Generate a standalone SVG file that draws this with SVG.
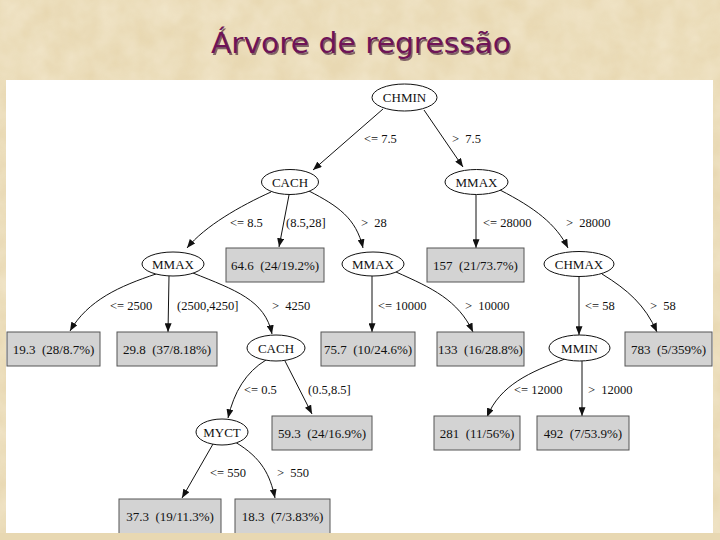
<svg xmlns="http://www.w3.org/2000/svg" width="720" height="540" viewBox="0 0 720 540">
<defs>
<filter id="tex" x="0" y="0" width="100%" height="100%">
<feTurbulence type="fractalNoise" baseFrequency="0.04" numOctaves="3" seed="4" result="n"/>
<feColorMatrix in="n" type="matrix" values="0 0 0 0 0.93  0 0 0 0 0.86  0 0 0 0 0.70  0 0 0 -1.2 1.0" result="c"/>
<feComposite in="c" in2="SourceGraphic" operator="in"/>
</filter>
<marker id="ah" viewBox="0 0 10 8" refX="10" refY="4" markerWidth="9" markerHeight="7" markerUnits="userSpaceOnUse" orient="auto">
<path d="M0,0 L10,4 L0,8 Z" fill="#111"/>
</marker>
<style>
.bg{fill:#E8D8B2}
.panel{fill:#ffffff}
.title{font-family:"DejaVu Sans","Noto Sans",sans-serif;font-size:28px;fill:#6E1457}
.tshadow{font-family:"DejaVu Sans","Noto Sans",sans-serif;font-size:28px;fill:#2a0020;opacity:0.55}
.node ellipse{fill:#fff;stroke:#111;stroke-width:1}
.node rect{fill:#D3D3D3;stroke:#555;stroke-width:1}
.lbl{font-family:"Liberation Serif","Times New Roman",serif;font-size:13px;fill:#111;text-anchor:middle;dominant-baseline:central;white-space:pre}
.elbl{font-family:"Liberation Serif","Times New Roman",serif;font-size:12.5px;fill:#111;white-space:pre}
.edges path{fill:none;stroke:#111;stroke-width:1;marker-end:url(#ah)}
</style>
</defs>
<rect class="bg" x="0" y="0" width="720" height="540"/>
<rect x="0" y="0" width="720" height="540" fill="#fff" filter="url(#tex)" opacity="0.6"/>
<rect class="panel" x="6" y="80" width="707" height="453"/>
<text class="tshadow" x="362.5" y="54.5" text-anchor="middle" textLength="300" lengthAdjust="spacingAndGlyphs">Árvore de regressão</text>
<text class="title" x="361" y="53" text-anchor="middle" textLength="300" lengthAdjust="spacingAndGlyphs">Árvore de regressão</text>

<g class="edges" id="edges">
<path d="M383,109 L313,170"/>
<path d="M424,110 L463,167"/>
<path d="M271,192 C240,206 205,226 187,248"/>
<path d="M289,195 L279,247"/>
<path d="M309,191 C338,206 356,218 363,248"/>
<path d="M476,195 L476,248"/>
<path d="M500,190 C535,208 556,224 568,248"/>
<path d="M156,274 C120,286 88,300 70,331"/>
<path d="M169,276 L168,332"/>
<path d="M193,273 C235,290 265,300 272,334"/>
<path d="M372,276 L372,332"/>
<path d="M396,272 C432,288 458,300 473,332"/>
<path d="M579,277 L579,335"/>
<path d="M602,274 C628,290 645,305 657,332"/>
<path d="M266,360 C246,372 234,392 228,418"/>
<path d="M285,361 L312,414"/>
<path d="M565,359 C530,372 500,385 487,417"/>
<path d="M582,361 L582,416"/>
<path d="M213,444 L182,498"/>
<path d="M235,442 C262,458 270,475 275,498"/>
</g>

<g class="elbls">
<text class="elbl" x="364" y="143">&lt;= 7.5</text>
<text class="elbl" x="452" y="143">&gt;  7.5</text>
<text class="elbl" x="230" y="227">&lt;= 8.5</text>
<text class="elbl" x="286" y="227">(8.5,28]</text>
<text class="elbl" x="361" y="227">&gt;  28</text>
<text class="elbl" x="483" y="227">&lt;= 28000</text>
<text class="elbl" x="566" y="227">&gt;  28000</text>
<text class="elbl" x="110" y="310">&lt;= 2500</text>
<text class="elbl" x="177" y="310">(2500,4250]</text>
<text class="elbl" x="272" y="310">&gt;  4250</text>
<text class="elbl" x="378" y="310">&lt;= 10000</text>
<text class="elbl" x="465" y="310">&gt;  10000</text>
<text class="elbl" x="585" y="310">&lt;= 58</text>
<text class="elbl" x="650" y="310">&gt;  58</text>
<text class="elbl" x="244" y="394">&lt;= 0.5</text>
<text class="elbl" x="308" y="394">(0.5,8.5]</text>
<text class="elbl" x="514" y="394">&lt;= 12000</text>
<text class="elbl" x="588" y="394">&gt;  12000</text>
<text class="elbl" x="210" y="477">&lt;= 550</text>
<text class="elbl" x="277" y="477">&gt;  550</text>
</g>

<g class="node" id="n-chmin"><ellipse cx="404.5" cy="97.5" rx="32.5" ry="13.5"/><text class="lbl" x="404.5" y="97.5">CHMIN</text></g>
<g class="node" id="n-cach1"><ellipse cx="290" cy="182" rx="28.5" ry="12.5"/><text class="lbl" x="290" y="182">CACH</text></g>
<g class="node" id="n-mmax1"><ellipse cx="476.5" cy="182" rx="31.5" ry="12.5"/><text class="lbl" x="476.5" y="182">MMAX</text></g>
<g class="node" id="n-mmax2"><ellipse cx="173" cy="264" rx="31" ry="12"/><text class="lbl" x="173" y="264">MMAX</text></g>
<g class="node" id="n-leaf646"><rect x="226" y="248" width="98" height="34"/><text class="lbl" x="275" y="265">64.6  (24/19.2%)</text></g>
<g class="node" id="n-mmax3"><ellipse cx="373" cy="264" rx="31" ry="12"/><text class="lbl" x="373" y="264">MMAX</text></g>
<g class="node" id="n-leaf157"><rect x="427" y="248" width="97" height="34"/><text class="lbl" x="475.5" y="265">157  (21/73.7%)</text></g>
<g class="node" id="n-chmax"><ellipse cx="579" cy="264" rx="35" ry="12.5"/><text class="lbl" x="579" y="264">CHMAX</text></g>
<g class="node" id="n-leaf193"><rect x="7" y="332" width="93" height="34"/><text class="lbl" x="53.5" y="349">19.3  (28/8.7%)</text></g>
<g class="node" id="n-leaf298"><rect x="117" y="332" width="100" height="34"/><text class="lbl" x="167" y="349">29.8  (37/8.18%)</text></g>
<g class="node" id="n-cach2"><ellipse cx="276" cy="348" rx="29" ry="13"/><text class="lbl" x="276" y="348">CACH</text></g>
<g class="node" id="n-leaf757"><rect x="321" y="332" width="94" height="34"/><text class="lbl" x="368" y="349">75.7  (10/24.6%)</text></g>
<g class="node" id="n-leaf133"><rect x="437" y="332" width="87" height="34"/><text class="lbl" x="480.5" y="349">133  (16/28.8%)</text></g>
<g class="node" id="n-mmin"><ellipse cx="579.5" cy="348" rx="30.5" ry="13"/><text class="lbl" x="579.5" y="348">MMIN</text></g>
<g class="node" id="n-leaf783"><rect x="625" y="332" width="87" height="34"/><text class="lbl" x="668.5" y="349">783  (5/359%)</text></g>
<g class="node" id="n-myct"><ellipse cx="222" cy="432" rx="26" ry="13"/><text class="lbl" x="222" y="432">MYCT</text></g>
<g class="node" id="n-leaf593"><rect x="272" y="416" width="100" height="34"/><text class="lbl" x="322" y="433">59.3  (24/16.9%)</text></g>
<g class="node" id="n-leaf281"><rect x="434" y="416" width="86" height="34"/><text class="lbl" x="477" y="433">281  (11/56%)</text></g>
<g class="node" id="n-leaf492"><rect x="537" y="416" width="92" height="34"/><text class="lbl" x="583" y="433">492  (7/53.9%)</text></g>
<g class="node" id="n-leaf373"><rect x="119" y="499" width="102" height="40"/><text class="lbl" x="170" y="516">37.3  (19/11.3%)</text></g>
<g class="node" id="n-leaf183"><rect x="235" y="499" width="95" height="40"/><text class="lbl" x="282.5" y="516">18.3  (7/3.83%)</text></g>
<rect class="bg" x="0" y="533" width="720" height="7"/>
</svg>
